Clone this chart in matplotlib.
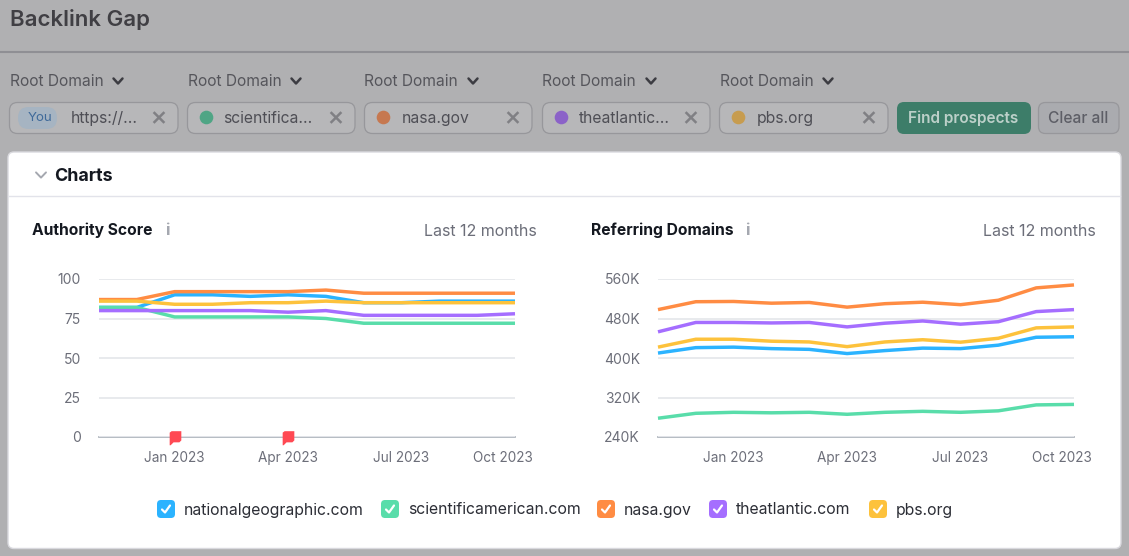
import matplotlib
matplotlib.use("Agg")
import matplotlib.pyplot as plt
from matplotlib.patches import FancyBboxPatch, Circle
from matplotlib.path import Path
from matplotlib.transforms import ScaledTranslation

plt.rcParams['font.family'] = ['Inter', 'DejaVu Sans']

W, H = 1129, 556

months = list(range(12))
tick_months = [2, 5, 8, 11]
tick_labels = ['Jan 2023', 'Apr 2023', 'Jul 2023', 'Oct 2023']
flag_months = [2, 5]

domains = ['nationalgeographic.com', 'scientificamerican.com', 'nasa.gov', 'theatlantic.com', 'pbs.org']
colors = ['#2bb3ff', '#59ddaa', '#ff8c43', '#a56eff', '#fdc23c']

authority_natgeo = [82, 82, 90, 90, 89, 90, 89, 85, 85, 86, 86, 86]
authority_sciam = [82, 82, 76, 76, 76, 76, 75, 72, 72, 72, 72, 72]
authority_nasa = [87, 87, 92, 92, 92, 92, 93, 91, 91, 91, 91, 91]
authority_atlantic = [80, 80, 80, 80, 80, 79, 80, 77, 77, 77, 77, 78]
authority_pbs = [86, 86, 84, 84, 85, 85, 86, 85, 85, 85, 85, 85]

refdom_natgeo = [410, 421, 422, 419, 417.5, 409, 415, 420, 419, 426, 442, 443]
refdom_sciam = [278, 288, 290, 289, 290, 286, 290, 292, 290, 293, 305, 306]
refdom_nasa = [498, 514, 514.5, 511, 512.5, 503, 510, 513, 508, 517, 542, 548]
refdom_atlantic = [453, 472, 472, 471, 472, 463, 470.5, 475, 468.5, 473.5, 494, 498]
refdom_pbs = [422, 438, 438, 434, 432.5, 423, 432.5, 437, 432, 440, 461, 463]

authority_series = [authority_natgeo, authority_sciam, authority_nasa, authority_atlantic, authority_pbs]
refdom_series = [refdom_natgeo, refdom_sciam, refdom_nasa, refdom_atlantic, refdom_pbs]

authority_ticks = [0, 25, 50, 75, 100]
authority_ticklabels = ['0', '25', '50', '75', '100']
refdom_ticks = [240, 320, 400, 480, 560]
refdom_ticklabels = ['240K', '320K', '400K', '480K', '560K']

GRAY = '#b0b0b2'
px = 72 / 100  # points per pixel at dpi 100

fig = plt.figure(figsize=(W / 100, H / 100), dpi=100, facecolor=GRAY)
bg = fig.add_axes([0, 0, 1, 1], zorder=0)
bg.set_xlim(0, W)
bg.set_ylim(H, 0)
bg.axis('off')


def rbox(x0, y0, x1, y1, r, fc, ec='none', lw=1.0, z=1):
    bg.add_patch(FancyBboxPatch((x0 + r, y0 + r), x1 - x0 - 2 * r, y1 - y0 - 2 * r,
                                boxstyle=f'round,pad={r},rounding_size={r}',
                                fc=fc, ec=ec, lw=lw, zorder=z))


def chevron(cx, cy, w, h, color, lw):
    bg.plot([cx - w, cx, cx + w], [cy - h, cy + h, cy - h], color=color, lw=lw,
            solid_capstyle='round', solid_joinstyle='round', zorder=3)


def cross(cx, cy, s, color='#808084'):
    bg.plot([cx - s, cx + s], [cy - s, cy + s], color=color, lw=1.8, zorder=3)
    bg.plot([cx - s, cx + s], [cy + s, cy - s], color=color, lw=1.8, zorder=3)


# page header
bg.text(10, 20, 'Backlink Gap', fontsize=16.0, color='#403f44', fontweight='semibold',
        va='center', ha='left')
bg.plot([0, W], [51.5, 51.5], color='#8f8f94', lw=1.5, zorder=1)

# filter row
filters = [(9, 178), (187, 355), (364, 532), (542, 710), (719, 888)]
chip_labels = ['https://...', 'scientifica...', 'nasa.gov', 'theatlantic...', 'pbs.org']
chip_text_x = [71, 224, 402, 579, 757]
chip_dots = [None, '#4fa585', '#c67850', '#8b62c8', '#c79c4f']
for (x0, x1), label, tx, dot in zip(filters, chip_labels, chip_text_x, chip_dots):
    bg.text(x0 + 0.5, 81.5, 'Root Domain', fontsize=11.2, color='#55555b', va='center', ha='left')
    chevron(x0 + 109, 81, 4.5, 2.5, '#3c3c42', 1.8)
    rbox(x0 + 0.5, 102.5, x1, 133.5, 8, '#b7b7b9', '#97979b', 0.9)
    bg.text(tx - 0.5, 118.5, label, fontsize=11.3, color='#4e4e55', va='center', ha='left')
    cross(x1 - 19, 117.5, 4.5)
    if dot:
        bg.add_patch(Circle((x0 + 19.5, 117.5), 6.8, fc=dot, ec='none', zorder=3))
rbox(18, 107, 57, 129, 10.5, '#a6b4c2', z=2)
bg.text(40, 118, 'You', fontsize=9.6, color='#3f6a9a', va='center', ha='center', zorder=3)

rbox(897, 102, 1031, 134, 7, '#3d7d69')
bg.text(963.5, 118.5, 'Find prospects', fontsize=11.1, color='#bcd0c9', fontweight='semibold',
        va='center', ha='center', zorder=3)
rbox(1038.5, 102.5, 1119, 133.5, 7, '#aaabaf', '#97979b', 0.9)
bg.text(1078.5, 118.5, 'Clear all', fontsize=11.2, color='#5d5e66', fontweight='medium',
        va='center', ha='center', zorder=3)

# card
rbox(8, 152, 1121, 548.5, 6, '#ffffff', '#d9d9de', 1.0)
bg.plot([9, 1120], [196, 196], color='#e2e3ea', lw=1, zorder=2)
chevron(41, 175, 5, 2.6, '#a5a8b0', 1.4)
bg.text(54.5, 176.5, 'Charts', fontsize=12.9, color='#141820', fontweight='bold', va='center', ha='left', zorder=3)

# panel headers
for x, title, ix, rx in [(32, 'Authority Score', 167, 537), (591, 'Referring Domains', 747, 1096)]:
    bg.text(x, 230, title, fontsize=11.25, color='#141820', fontweight='bold', va='center', ha='left', zorder=3)
    bg.text(ix, 230.5, 'i', fontsize=12, color='#a5a8b0', fontweight='bold',
            va='center', ha='center', zorder=3)
    bg.text(rx, 231, 'Last 12 months', fontsize=11.5, color='#6c6e79', va='center', ha='right', zorder=3)

flag = Path([(-6, -5), (-6, 5), (-4, 6.5), (6, 6.5), (6, -3), (4, -5), (-2, -5), (-5, -8), (-6, -8), (-6, -5)])


def panel(x0, x1, ylo, yhi, series, ticks, ticklabels, flags):
    ax = fig.add_axes([x0 / W, 1 - 437 / H, (x1 - x0) / W, (437 - 279) / H], zorder=2)
    ax.patch.set_alpha(0)
    ax.set_xlim(months[0], months[-1])
    ax.set_ylim(ylo, yhi)
    for s in ax.spines.values():
        s.set_visible(False)
    ax.set_yticks(ticks, ticklabels)
    ax.set_xticks(tick_months, tick_labels)
    ax.tick_params(axis='both', length=0, labelsize=10, labelcolor='#6c6e79')
    ax.tick_params(axis='y', pad=13)
    ax.tick_params(axis='x', labelsize=9.8, pad=10)
    # the last month label is pulled inward so that it stays within the panel
    last = ax.get_xticklabels()[-1]
    last.set_horizontalalignment('right')
    last.set_transform(last.get_transform() + ScaledTranslation(18 / 100, 0, fig.dpi_scale_trans))
    ax.grid(axis='y', color='#e6e8ec', lw=1.3, zorder=0)
    ax.axhline(ylo, color='#b0b6be', lw=1.3, zorder=1, clip_on=False)
    for vals, c in zip(series, colors):
        ax.plot(months, vals, color=c, lw=3 * px * 1.15, solid_joinstyle='round', solid_capstyle='butt',
                zorder=3, clip_on=False)
    if flags:
        ax.scatter(flags, [ylo] * len(flags), marker=flag, s=125, color='#ff4953', linewidths=0,
                   zorder=4, clip_on=False)
    return ax


panel(99, 515, authority_ticks[0], authority_ticks[-1], authority_series, authority_ticks, authority_ticklabels, flag_months)
panel(658, 1074, refdom_ticks[0], refdom_ticks[-1], refdom_series, refdom_ticks, refdom_ticklabels, None)

# legend
legend_box_x = [157, 381, 597, 709, 869]
for x, name, c in zip(legend_box_x, domains, colors):
    rbox(x, 500, x + 18, 518, 4, c, z=3)
    bg.plot([x + 5, x + 8, x + 13], [509.5, 512.5, 505.5], color='white', lw=1.6,
            solid_capstyle='round', solid_joinstyle='round', zorder=4)
    bg.text(x + 27, 510, name, fontsize=11.35, color='#2c2e36', va='center', ha='left', zorder=4)

fig.savefig('out.png', dpi=100, facecolor=GRAY)
